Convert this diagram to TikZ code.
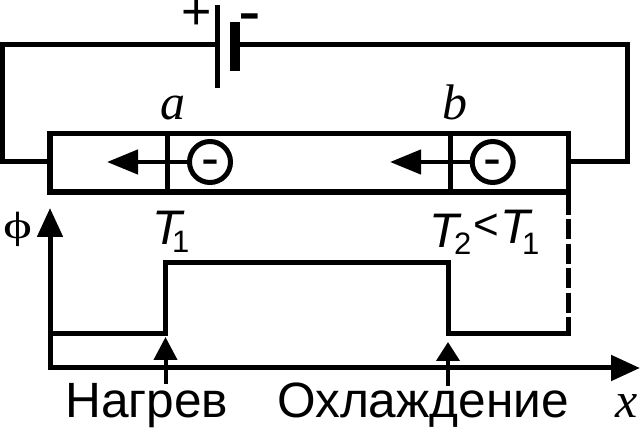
\documentclass[tikz,border=0pt]{standalone}
\usepackage{fontspec}
\setmainfont{Liberation Sans}
\newfontfamily\serifit{Liberation Serif}
\newfontfamily\phifont[FakeStretch=1.45]{Liberation Serif}
\usetikzlibrary{arrows.meta}
\tikzset{
  wire/.style={line width=5pt},
  bar/.style={line width=5.5pt},
  shaft/.style={line width=4.5pt},
  axis/.style={line width=5pt, -{Triangle[length=29pt, width=25pt]}},
  flowtip/.style={line width=4.5pt, -{Triangle[length=31pt, width=24pt]}},
  hottip/.style={line width=4pt, -{Triangle[length=23pt, width=23pt]}},
  coldtip/.style={line width=4pt, -{Triangle[length=19pt, width=23pt]}},
  electron/.style={circle, draw, line width=5pt, minimum size=41pt, inner sep=0pt,
    fill=white, font=\fontsize{54}{54}\selectfont, text height=30pt, text depth=0pt},
  caption/.style={anchor=base west, inner sep=0pt, font=\fontsize{49.6}{49.6}\selectfont},
  letter/.style={anchor=base west, inner sep=0pt, font=\fontsize{50}{50}\selectfont\serifit\itshape},
  tlabel/.style={anchor=base west, inner sep=0pt, font=\fontsize{48.5}{48.5}\selectfont\itshape},
  sublabel/.style={anchor=base west, inner sep=0pt, font=\fontsize{31}{31}\selectfont},
}
\begin{document}
\begin{tikzpicture}[x=1pt, y=1pt, yscale=-1]
\useasboundingbox (0, 0) rectangle (641, 430);
%Circuit
\coordinate (plateL) at (217.5, 44.5);
\coordinate (plateR) at (235, 44.5);
\coordinate (rodW) at (50, 162);
\coordinate (rodE) at (568.5, 162);
\draw [wire, line cap=rect] (plateL) -| (2.5, 162) -- (rodW);
\draw [wire] (plateR) -- (627.5, 44.5) |- (rodE);
\draw [line width=5pt] (217.5, 5) -- (217.5, 88);
\draw [line width=10pt] (235, 22) -- (235, 71);
\node (plus) [anchor=center, inner sep=0pt, font=\fontsize{52}{52}\selectfont, text height=34.5pt, text depth=0pt] at (197, 12) {+};
\node (minus) [anchor=center, inner sep=0pt, font=\fontsize{68}{68}\selectfont, text height=38pt, text depth=0pt] at (250, 16) {-};
%Rod
\draw [bar] (50, 133.5) rectangle (568.5, 192);
\draw [line width=5pt] (167, 133.5) -- (167, 192);
\draw [line width=5pt] (450.5, 133.5) -- (450.5, 192);
\node (elecA) [electron] at (210, 162) {-};
\node (elecB) [electron] at (492.7, 162) {-};
\coordinate (tipA) at (107, 162);
\coordinate (tipB) at (390, 162);
\draw [flowtip] (elecA.west) -- (tipA);
\draw [flowtip] (elecB.west) -- (tipB);
\node (labA) [letter] at (160, 120) {a};
\node (labB) [letter] at (442, 120) {b};
%Graph
\coordinate (origin) at (50, 368);
\draw [axis] (50, 370.5) -- (50, 208);
\draw [axis] (47.5, 368) -- (640, 368);
\draw [wire] (50, 334) -- (165.5, 334) -- (165.5, 263) -- (448, 263) -- (448, 334) -- (568.5, 334);
\draw [shaft] (568.5, 192) -- (568.5, 215);
\draw [shaft, dash pattern=on 20pt off 4.5pt] (568.5, 219.5) -- (568.5, 336);
\coordinate (hotTip) at (165.5, 337);
\coordinate (coldTip) at (448, 342);
\draw [hottip] (165.5, 384) -- (hotTip);
\draw [coldtip] (448, 386) -- (coldTip);
\node (phi) [anchor=base west, inner sep=0pt, font=\fontsize{38}{38}\phifont] at (3, 239) {ϕ};
\node (labT1) [tlabel] at (152, 245) {T};
\node (subT1) [sublabel] at (172, 253) {1};
\node (labT2) [tlabel] at (429, 248) {T};
\node (subT2) [sublabel] at (454, 255) {2};
\node (less) [anchor=base west, inner sep=0pt, font=\fontsize{44}{44}\selectfont] at (473, 240) {<};
\node (labT3) [tlabel] at (500, 244) {T};
\node (subT3) [sublabel] at (522, 255) {1};
\node (heat) [caption] at (65, 418) {Нагрев};
\node (cool) [caption] at (277, 418) {Охлаждение};
\node (labX) [letter] at (615, 418) {x};
\end{tikzpicture}
\end{document}
